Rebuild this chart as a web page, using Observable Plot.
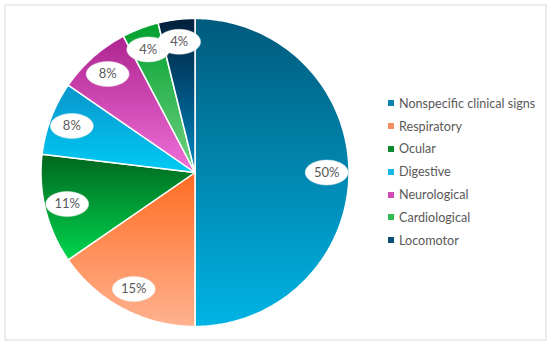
<!DOCTYPE html>
<html>
<head>
<meta charset="utf-8">
<script src="https://cdn.jsdelivr.net/npm/d3@7"></script>
<script src="https://cdn.jsdelivr.net/npm/@observablehq/plot@0.6"></script>
<style>
  html, body { margin: 0; padding: 0; background: #fff; }
  #wrap { position: relative; width: 550px; height: 344px; font-family: Lato, "Open Sans", sans-serif; }
  #legend { position: absolute; left: 388px; top: 92px; }
  .row { display: flex; align-items: center; height: 22.8px; font-size: 12.6px; color: #595959; }
  .sw { width: 6px; height: 6px; margin-right: 5px; }
</style>
</head>
<body>
<div id="wrap"><div id="chart"></div><div id="legend"></div></div>
<script>
// Data
const categories = ["Nonspecific clinical signs", "Respiratory", "Ocular", "Digestive", "Neurological", "Cardiological", "Locomotor"];
const values = [50, 15.4, 11.5, 7.7, 7.7, 3.85, 3.85];
const labels = ["50%", "15%", "11%", "8%", "8%", "4%", "4%"];
const gradTop = ["#005a7c", "#ff6c22", "#00661e", "#0a96cc", "#ae2490", "#00a02e", "#001e3a"];
const gradBottom = ["#00b4e4", "#ffb290", "#00d44e", "#00caf4", "#f070d8", "#72d282", "#0088c2"];
const legendColors = ["#0a82b0", "#f59060", "#0b8a32", "#1ab8e8", "#d24cb6", "#34b850", "#0a4e78"];

// Layout
const W = 550, H = 344, cx = 194.5, cy = 172, R = 154, labelR = 0.855 * R;

const total = d3.sum(values);
const slices = [];
const labelPts = [];
let acc = 0;
values.forEach((v, i) => {
  const a0 = acc / total * 2 * Math.PI;
  const a1 = (acc + v) / total * 2 * Math.PI;
  acc += v;
  const grad = `url(#g${i})`;
  slices.push({cat: categories[i], grad, x: cx, y: cy});
  const n = Math.max(2, Math.ceil((a1 - a0) / (Math.PI / 180)));
  for (let k = 0; k <= n; k++) {
    const a = a0 + (a1 - a0) * k / n;
    slices.push({cat: categories[i], grad, x: cx + R * Math.sin(a), y: cy - R * Math.cos(a)});
  }
  slices.push({cat: categories[i], grad, x: cx, y: cy});
  const am = (a0 + a1) / 2;
  labelPts.push({label: labels[i], x: cx + labelR * Math.sin(am), y: cy - labelR * Math.cos(am)});
});

const ellipse = {
  draw(ctx, size) {
    const r = Math.sqrt(size / Math.PI);
    const rx = r * 1.72, ry = r, k = 0.5523;
    ctx.moveTo(rx, 0);
    ctx.bezierCurveTo(rx, ry * k, rx * k, ry, 0, ry);
    ctx.bezierCurveTo(-rx * k, ry, -rx, ry * k, -rx, 0);
    ctx.bezierCurveTo(-rx, -ry * k, -rx * k, -ry, 0, -ry);
    ctx.bezierCurveTo(rx * k, -ry, rx, -ry * k, rx, 0);
    ctx.closePath();
  }
};

const chart = Plot.plot({
  width: W, height: H,
  margin: 0,
  x: {domain: [0, W], range: [0, W], axis: null},
  y: {domain: [0, H], range: [0, H], axis: null},
  color: {type: "identity"},
  style: {fontFamily: "Lato, 'Open Sans', sans-serif"},
  marks: [
    Plot.frame({stroke: "#d9d9d9", inset: 4.5}),
    Plot.line(slices, {x: "x", y: "y", z: "cat", fill: "grad", stroke: "white", strokeWidth: 1.5, strokeLinejoin: "round", curve: "linear"}),
    Plot.dot(labelPts, {x: "x", y: "y", r: 12.5, symbol: ellipse, fill: "white", stroke: "#e8e8e8", strokeWidth: 0.5}),
    Plot.text(labelPts, {x: "x", y: "y", text: "label", fill: "#595959", fontSize: 13})
  ]
});

// gradients
const ns = "http://www.w3.org/2000/svg";
const defs = document.createElementNS(ns, "defs");
gradTop.forEach((c, i) => {
  const g = document.createElementNS(ns, "linearGradient");
  g.setAttribute("id", `g${i}`);
  g.setAttribute("x1", 0); g.setAttribute("y1", 0); g.setAttribute("x2", 0); g.setAttribute("y2", 1);
  const s0 = document.createElementNS(ns, "stop");
  s0.setAttribute("offset", "0"); s0.setAttribute("stop-color", c);
  const s1 = document.createElementNS(ns, "stop");
  s1.setAttribute("offset", "1"); s1.setAttribute("stop-color", gradBottom[i]);
  g.appendChild(s0); g.appendChild(s1);
  defs.appendChild(g);
});
chart.insertBefore(defs, chart.firstChild);
document.getElementById("chart").appendChild(chart);

// legend
const legend = document.getElementById("legend");
categories.forEach((c, i) => {
  const row = document.createElement("div");
  row.className = "row";
  const sw = document.createElement("div");
  sw.className = "sw";
  sw.style.background = legendColors[i];
  const t = document.createElement("span");
  t.textContent = c;
  row.appendChild(sw); row.appendChild(t);
  legend.appendChild(row);
});
</script>
</body>
</html>
